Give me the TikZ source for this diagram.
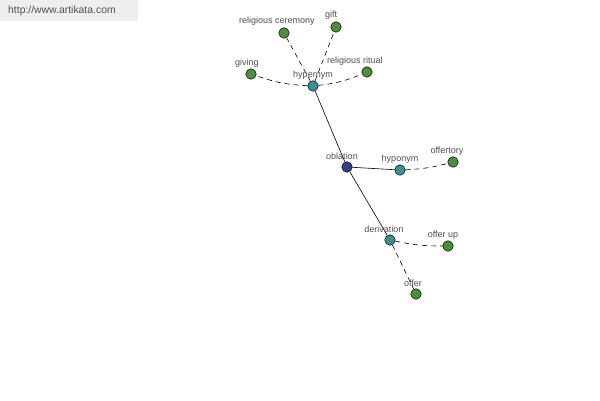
\documentclass[tikz,border=0pt]{standalone}
\usepackage{fontspec}
\setmainfont{Liberation Sans}
\begin{document}
\begin{tikzpicture}[x=1pt,y=-1pt,
  dot/.style={circle,draw=black,line width=0.5pt,minimum size=10.5pt,inner sep=0pt},
  leaf/.style={dot,fill=leafgreen},
  rel/.style={dot,fill=relteal},
  lbl/.style={font=\fontsize{9}{10}\selectfont,text=labgray,inner sep=0pt},
  solidedge/.style={draw=black,line width=0.6pt},
  dashedge/.style={draw=black,line width=0.6pt,dash pattern=on 5pt off 4pt}]
\definecolor{leafgreen}{HTML}{4E8E3E}
\definecolor{relteal}{HTML}{3C9090}
\definecolor{rootblue}{HTML}{3A3F88}
\definecolor{labgray}{HTML}{505050}
\definecolor{bargray}{HTML}{EEEEEE}
\useasboundingbox (0,0) rectangle (600,400);
\fill[white] (0,0) rectangle (600,400);
\fill[bargray] (0,0) rectangle (138,21);
\node[anchor=west,font=\fontsize{10.4}{11}\selectfont,text=labgray,inner sep=0pt] (url) at (8,11) {http://www.artikata.com};
% nodes
\node[dot,fill=rootblue] (oblation) at (347,167) {};
\node[rel] (hypernym) at (313,86) {};
\node[rel] (hyponym) at (400,170) {};
\node[rel] (derivation) at (390,240) {};
\node[leaf] (giving) at (251,74) {};
\node[leaf] (ceremony) at (284,33) {};
\node[leaf] (gift) at (336,27) {};
\node[leaf] (ritual) at (367,72) {};
\node[leaf] (offertory) at (453,162) {};
\node[leaf] (offerup) at (448,246) {};
\node[leaf] (offer) at (416,294) {};
% edges
\draw[solidedge] (oblation) -- (hypernym);
\draw[solidedge] (oblation) -- (hyponym);
\draw[solidedge] (oblation) -- (derivation);
\draw[dashedge] (hypernym) to[bend left=8] (giving);
\draw[dashedge] (hypernym) -- (ceremony);
\draw[dashedge] (hypernym) -- (gift);
\draw[dashedge] (hypernym) to[bend right=8] (ritual);
\draw[dashedge] (hyponym) to[bend right=6] (offertory);
\draw[dashedge] (derivation) to[bend right=6] (offerup);
\draw[dashedge] (derivation) -- (offer);
% labels
\node[lbl] (lgiving) at (247,63) {giving};
\node[lbl] (lceremony) at (277,21) {religious ceremony};
\node[lbl] (lgift) at (331,15) {gift};
\node[lbl] (lritual) at (355,61) {religious ritual};
\node[lbl] (lhypernym) at (313,75) {hypernym};
\node[lbl] (loblation) at (342,156) {oblation};
\node[lbl] (lhyponym) at (400,159) {hyponym};
\node[lbl] (loffertory) at (447,151) {offertory};
\node[lbl] (lderivation) at (384,229) {derivation};
\node[lbl] (lofferup) at (443,235) {offer up};
\node[lbl] (loffer) at (413,283) {offer};
\end{tikzpicture}
\end{document}
